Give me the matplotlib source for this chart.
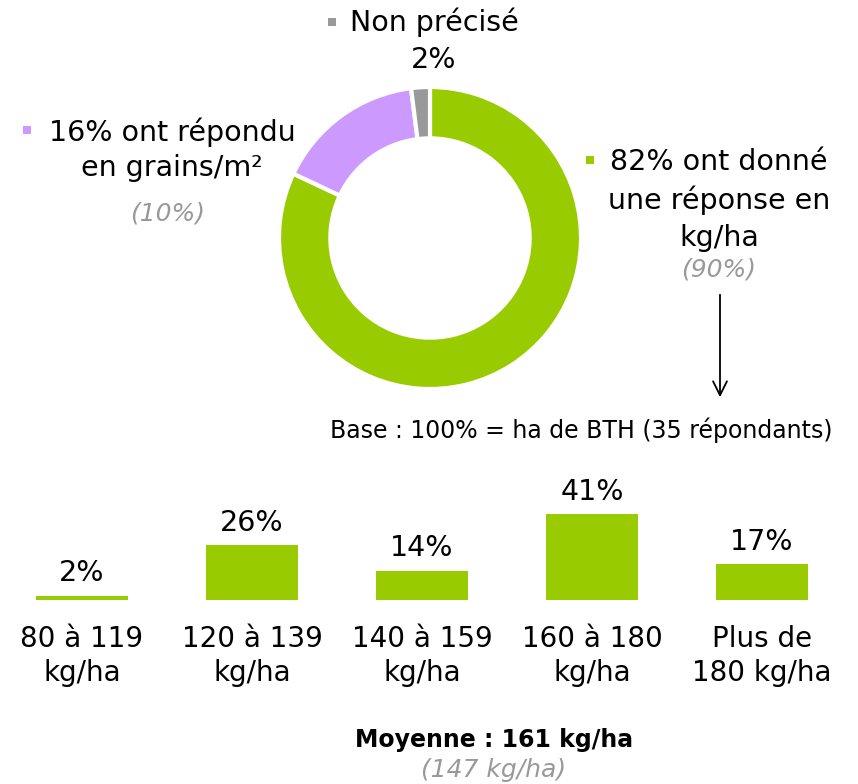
import matplotlib.pyplot as plt
from matplotlib.patches import Rectangle

# donut data
donut_labels = ["kg/ha", "grains/m²", "Non précisé"]
donut_values = [82, 16, 2]
donut_colors = ["#99cc00", "#cc99ff", "#999999"]

# bar data
bar_labels = ["80 à 119\nkg/ha", "120 à 139\nkg/ha", "140 à 159\nkg/ha",
              "160 à 180\nkg/ha", "Plus de\n180 kg/ha"]
bar_values = [2, 26, 14, 41, 17]
bar_color = "#99cc00"

W, H = 858, 784
fig = plt.figure(figsize=(W / 100, H / 100), dpi=100)
plt.rcParams['font.family'] = ['DejaVu Sans']
FS = 20.5
IFS = 18
GREY = "#999999"

# donut
cx, cy, r = 430, 238, 151
dax = fig.add_axes([(cx - r) / W, 1 - (cy + r) / H, 2 * r / W, 2 * r / H])
dax.pie(donut_values, colors=donut_colors, startangle=90, counterclock=False,
        radius=1, wedgeprops=dict(width=0.34, edgecolor="white", linewidth=3))
dax.set_xlim(-1, 1)
dax.set_ylim(-1, 1)
dax.set_aspect("equal")
dax.axis("off")

# bars
x0, dx = 82, 170
base_y, px_per = 600, 2.1
bax = fig.add_axes([0, 1 - base_y / H, 1, 150 / H])
xs = list(range(len(bar_values)))
bax.bar(xs, bar_values, width=92 / dx, color=bar_color)
bax.set_xlim(-x0 / dx, (W - x0) / dx)
bax.set_ylim(0, 150 / px_per)
bax.axis("off")
for x, v in zip(xs, bar_values):
    bax.annotate(f"{v}%", (x, v), xytext=(0, 6), textcoords="offset points",
                 ha="center", va="bottom", fontsize=FS)

# overlay in pixel coords for annotations
ov = fig.add_axes([0, 0, 1, 1], zorder=-1)
ov.set_xlim(0, W)
ov.set_ylim(H, 0)
ov.axis("off")

for x, lab in zip(xs, bar_labels):
    ov.text(x0 + x * dx, 656, lab, ha="center", va="center", fontsize=FS - 0.5,
            linespacing=1.3)


def square(x, y, c, s=8):
    ov.add_patch(Rectangle((x - s / 2, y - s / 2), s, s, color=c, lw=0))


square(332, 22, donut_colors[2])
ov.text(434, 22, "Non précisé", ha="center", va="center", fontsize=FS)
ov.text(434, 60, "2%", ha="center", va="center", fontsize=FS)

square(27, 130, donut_colors[1])
ov.text(172, 132, "16% ont répondu", ha="center", va="center", fontsize=FS)
ov.text(172, 168, "en grains/m²", ha="center", va="center", fontsize=FS)
ov.text(168, 213, "(10%)", ha="center", va="center", fontsize=IFS,
        style="italic", color=GREY)

square(590, 160, donut_colors[0])
ov.text(719, 162, "82% ont donné", ha="center", va="center", fontsize=FS)
ov.text(719, 200, "une réponse en", ha="center", va="center", fontsize=FS)
ov.text(719, 238, "kg/ha", ha="center", va="center", fontsize=FS)
ov.text(719, 270, "(90%)", ha="center", va="center", fontsize=IFS,
        style="italic", color=GREY)

ov.annotate("", xy=(720, 400), xytext=(720, 292),
            arrowprops=dict(arrowstyle="->", color="black", lw=1.3,
                            mutation_scale=25))

ov.text(581, 430, "Base : 100% = ha de BTH (35 répondants)", ha="center",
        va="center", fontsize=17)

ov.text(494, 740, "Moyenne : 161 kg/ha", ha="center", va="center",
        fontsize=17, fontweight="bold")
ov.text(494, 770, "(147 kg/ha)", ha="center", va="center", fontsize=IFS,
        style="italic", color=GREY)

fig.savefig("out.png", dpi=100)
